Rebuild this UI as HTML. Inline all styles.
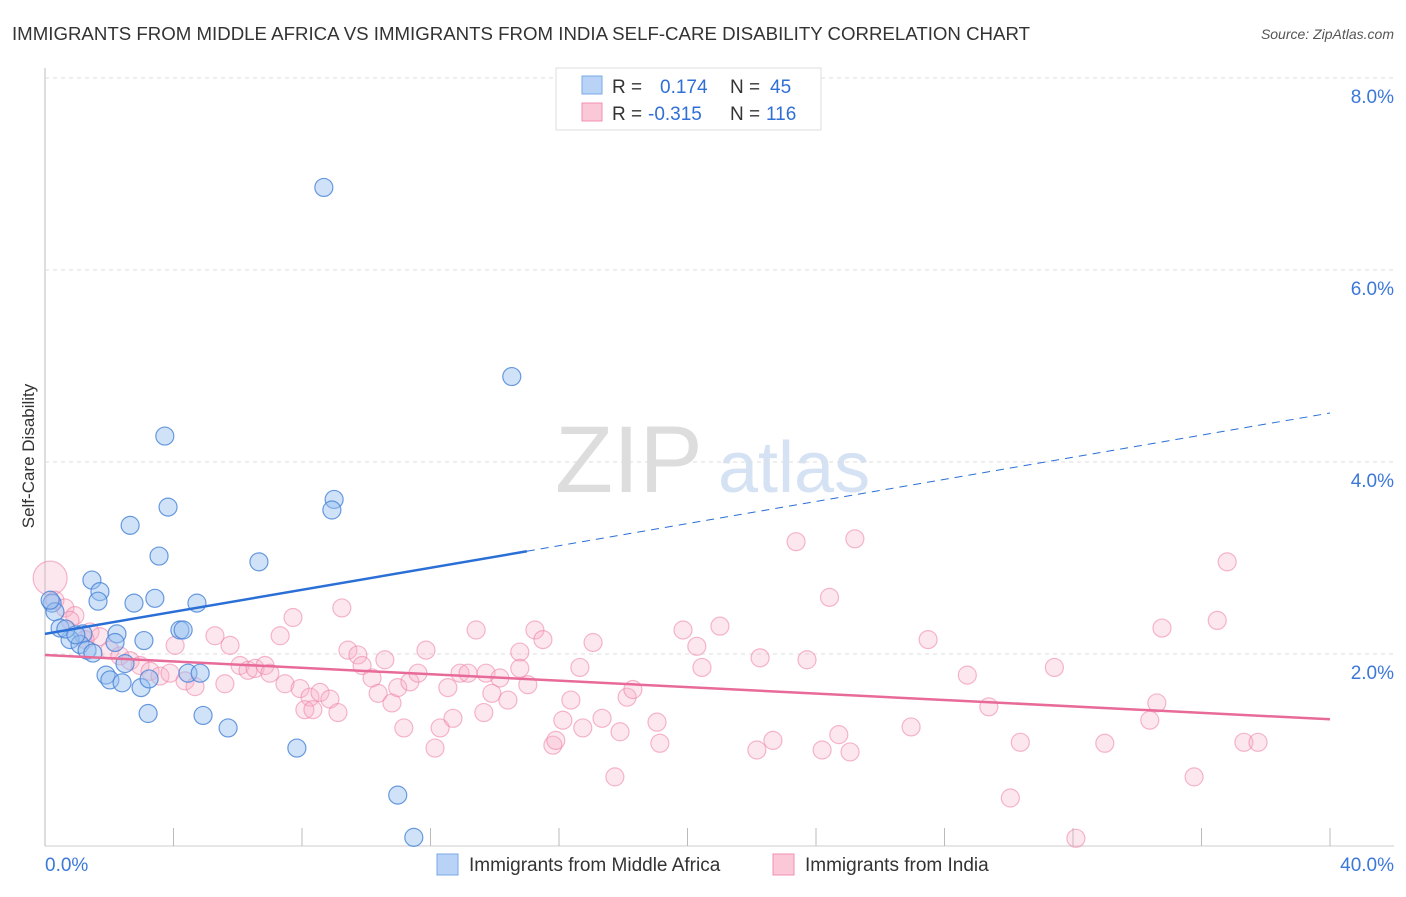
<!DOCTYPE html>
<html><head><meta charset="utf-8"><style>
body{margin:0;background:#fff;font-family:"Liberation Sans",sans-serif}
svg text{font-family:"Liberation Sans",sans-serif}
</style></head><body>
<svg id="c" width="1406" height="892">
<text x="12" y="40" font-size="18" fill="#333" textLength="1018" lengthAdjust="spacingAndGlyphs">IMMIGRANTS FROM MIDDLE AFRICA VS IMMIGRANTS FROM INDIA SELF-CARE DISABILITY CORRELATION CHART</text>
<text x="1394" y="39" font-size="14" fill="#555" font-style="italic" text-anchor="end">Source: ZipAtlas.com</text>
<text x="34" y="456" font-size="17" fill="#333" text-anchor="middle" transform="rotate(-90 34 456)">Self-Care Disability</text>
<text x="555" y="492" font-size="95" fill="#ddd" font-family="Liberation Serif">ZIP</text>
<text x="718" y="492" font-size="72" fill="#d5e2f4">atlas</text>
<g id="grid"></g><g id="pts"></g><g id="lines"></g>
<g>
<rect x="556" y="68" width="265" height="62" fill="#fff" stroke="#ddd"/>
<rect x="582" y="76" width="20" height="18" fill="#b8d3f5" stroke="#7aa8e8"/>
<rect x="582" y="103" width="20" height="18" fill="#fbc8d8" stroke="#f090b0"/>
<text x="612" y="93" font-size="19" fill="#333">R =</text><text x="660" y="93" font-size="19" fill="#2f6fd6">0.174</text>
<text x="730" y="93" font-size="19" fill="#333">N =</text><text x="770" y="93" font-size="19" fill="#2f6fd6">45</text>
<text x="612" y="120" font-size="19" fill="#333">R =</text><text x="648" y="120" font-size="19" fill="#2f6fd6">-0.315</text>
<text x="730" y="120" font-size="19" fill="#333">N =</text><text x="766" y="120" font-size="19" fill="#2f6fd6">116</text>
</g>
<g>
<rect x="437" y="854" width="21" height="21" fill="#b8d3f5" stroke="#7aa8e8"/>
<text x="469" y="871" font-size="19" fill="#333">Immigrants from Middle Africa</text>
<rect x="773" y="854" width="21" height="21" fill="#fbc8d8" stroke="#f090b0"/>
<text x="805" y="871" font-size="19" fill="#333">Immigrants from India</text>
</g>
<text x="45" y="871" font-size="19" fill="#3b78d8">0.0%</text>
<text x="1394" y="871" font-size="19" fill="#3b78d8" text-anchor="end">40.0%</text>
</svg>
<script>
const yTicks=[2,4,6,8];
const yTickLabels=["2.0%","4.0%","6.0%","8.0%"];
const xTicks=[0,4,8,12,16,20,24,28,32,36,40];
const blueX=[8.68,14.53,3.73,3.83,2.65,9.0,8.93,3.55,6.66,1.46,1.71,1.65,3.42,2.77,4.73,0.22,0.31,4.2,4.3,2.24,3.08,2.18,1.18,0.78,1.09,1.31,1.49,2.49,1.9,2.02,2.4,2.99,3.24,4.45,4.83,3.21,4.92,5.7,7.84,10.98,11.48,0.47,0.65,0.96,0.16];
const blueY=[6.86,4.89,4.27,3.53,3.34,3.61,3.5,3.02,2.96,2.77,2.65,2.55,2.58,2.53,2.53,2.53,2.44,2.25,2.25,2.21,2.14,2.12,2.21,2.15,2.1,2.04,2.01,1.9,1.78,1.73,1.7,1.65,1.74,1.8,1.8,1.38,1.36,1.23,1.02,0.53,0.09,2.27,2.26,2.2,2.56];
const pinkX=[0.16,0.31,0.62,0.93,0.78,1.4,1.71,1.25,2.02,2.33,2.65,2.96,3.27,3.58,3.89,4.36,4.67,4.05,5.29,5.6,5.76,6.07,6.32,6.54,6.85,7.0,7.32,7.47,7.72,7.94,8.25,8.56,8.87,8.09,8.34,9.12,9.24,9.43,9.74,9.87,10.18,10.37,10.58,10.8,10.98,11.17,11.36,11.61,11.86,12.14,12.3,12.54,12.7,12.92,13.17,13.42,13.66,13.73,13.91,14.16,14.41,14.78,14.78,15.03,15.25,15.5,15.81,15.9,16.12,16.37,16.65,16.74,17.06,17.34,17.74,17.9,18.12,18.3,19.05,19.14,19.86,20.29,20.45,21.01,22.16,22.26,22.66,23.38,23.72,24.42,24.19,24.71,25.21,25.06,26.96,27.49,28.71,29.38,30.05,30.36,31.42,32.09,32.99,34.39,34.61,34.77,35.77,36.49,36.8,37.32,37.76];
const pinkY=[2.79,2.56,2.48,2.4,2.35,2.23,2.18,2.15,2.04,1.98,1.93,1.88,1.82,1.77,1.8,1.72,1.66,2.09,2.19,1.69,2.09,1.88,1.83,1.85,1.88,1.8,2.19,1.69,2.38,1.64,1.55,1.6,1.53,1.42,1.42,1.39,2.48,2.04,1.99,1.88,1.75,1.59,1.94,1.49,1.65,1.23,1.71,1.8,2.04,1.02,1.23,1.65,1.33,1.8,1.8,2.25,1.39,1.8,1.59,1.75,1.52,2.02,1.85,1.68,2.25,2.15,1.05,1.1,1.31,1.52,1.86,1.23,2.12,1.33,0.72,1.19,1.55,1.63,1.29,1.07,2.25,2.08,1.86,2.29,1.0,1.96,1.1,3.17,1.94,2.59,1.0,1.16,3.2,0.98,1.24,2.15,1.78,1.45,0.5,1.08,1.86,0.08,1.07,1.31,1.49,2.27,0.72,2.35,2.96,1.08,1.08];
const blueLine=[[0,2.21],[15,3.07],[40,4.51]];
const pinkLine=[[0,1.99],[40,1.32]];
const X=v=>45+v/40*1285, Y=v=>846-v*96;
const NS="http://www.w3.org/2000/svg";
function mk(t,a,p){const e=document.createElementNS(NS,t);for(const k in a)e.setAttribute(k,a[k]);p.appendChild(e);return e;}
const g=document.getElementById('grid');
mk('line',{x1:45,y1:68,x2:45,y2:846,stroke:'#bbb'},g);
const xl=mk('line',{x1:45,y1:846,x2:1394,y2:846,stroke:'#ccc'},g);

xTicks.forEach(t=>{const e=mk('line',{x1:X(t),y1:828,x2:X(t),y2:846,stroke:'#bbb'},g);
});
yTicks.forEach((t,i)=>{const e=mk('line',{x1:45,y1:Y(t),x2:1394,y2:Y(t),stroke:'#ddd','stroke-dasharray':'4,4'},g);

const tx=mk('text',{x:1394,y:Y(t)+25,'font-size':19,fill:'#3b78d8','text-anchor':'end'},g);tx.textContent=yTickLabels[i];
});
const p=document.getElementById('pts');
pinkX.forEach((x,i)=>{const c=mk('circle',{cx:X(x),cy:Y(pinkY[i]),r:i==0?17:9,fill:'rgba(248,175,200,0.3)',stroke:'rgba(236,125,165,0.55)','stroke-width':1.2},p);
});
blueX.forEach((x,i)=>{const c=mk('circle',{cx:X(x),cy:Y(blueY[i]),r:9,fill:'rgba(150,190,240,0.45)',stroke:'rgba(70,130,215,0.8)','stroke-width':1.2},p);
});
const L=document.getElementById('lines');
let e=mk('line',{x1:X(blueLine[0][0]),y1:Y(blueLine[0][1]),x2:X(blueLine[1][0]),y2:Y(blueLine[1][1]),stroke:'#2a6fd6','stroke-width':2.5},L);

e=mk('line',{x1:X(blueLine[1][0]),y1:Y(blueLine[1][1]),x2:X(blueLine[2][0]),y2:Y(blueLine[2][1]),stroke:'#2a6fd6','stroke-width':1,'stroke-dasharray':'8,6'},L);

e=mk('line',{x1:X(pinkLine[0][0]),y1:Y(pinkLine[0][1]),x2:X(pinkLine[1][0]),y2:Y(pinkLine[1][1]),stroke:'#e86a98','stroke-width':2.5},L);

</script>
</body></html>
